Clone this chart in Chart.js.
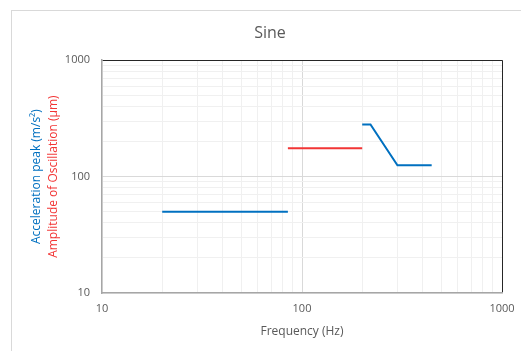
<!DOCTYPE html>
<html>
<head>
<meta charset="utf-8">
<script src="https://cdn.jsdelivr.net/npm/chart.js@4"></script>
<style>
  body { margin: 0; background: #fff; }
  #wrap { position: relative; width: 521px; height: 351px; overflow: hidden; }
  #frame { position: absolute; left: 11px; top: 10px; width: 600px; height: 400px; border: 1px solid #d9d9d9; }
  #myChart { position: absolute; left: 0; top: 0; }
</style>
</head>
<body>
<div id="wrap">
  <div id="frame"></div>
  <canvas id="myChart" width="521" height="351"></canvas>
</div>
<script>
// series (frequency in Hz, value on log scale)
const accLowFreq = [20, 85];
const accLowPeak = [50, 50];
const ampFreq = [85, 200];
const ampValue = [175, 175];
const accHighFreq = [200, 220, 300, 445];
const accHighPeak = [280, 280, 125, 125];

// grid lines at 1..9 per decade, labels only on the decades
const gridValues = [10, 20, 30, 40, 50, 60, 70, 80, 90, 100, 200, 300, 400, 500, 600, 700, 800, 900, 1000];
const decadeLabels = [10, 100, 1000];

const chartTitle = 'Sine';
const xTitle = 'Frequency (Hz)';
const yTitleAcc = 'Acceleration peak (m/s²)';
const yTitleAmp = 'Amplitude of Oscillation (µm)';

const blue = '#0070c0';
const red = '#f23535';
const textGrey = '#595959';
const font = 'Open Sans';

const toPoints = (xs, ys) => xs.map((x, i) => ({ x: x, y: ys[i] }));

const gridColor = (c) => {
  if (c.tick.value === 1000) return '#262626';
  if (c.tick.value === 100) return '#d9d9d9';
  return '#f0f0f0';
};

// y title has two lines in two colours, so draw it ourselves
const yTitlePlugin = {
  id: 'yTitles',
  afterDraw(chart) {
    const ctx = chart.ctx;
    const area = chart.chartArea;
    const midY = (area.top + area.bottom) / 2;
    ctx.save();
    ctx.font = '12px "' + font + '"';
    ctx.textAlign = 'center';
    ctx.textBaseline = 'middle';
    [[yTitleAcc, blue, 37], [yTitleAmp, red, 54]].forEach(([text, color, x]) => {
      ctx.save();
      ctx.translate(x, midY);
      ctx.rotate(-Math.PI / 2);
      ctx.fillStyle = color;
      ctx.fillText(text, 0, 0);
      ctx.restore();
    });
    ctx.restore();
  }
};

const lineStyle = { borderWidth: 2, pointRadius: 0, tension: 0, fill: false, borderCapStyle: 'butt' };

new Chart(document.getElementById('myChart'), {
  type: 'line',
  data: {
    datasets: [
      Object.assign({ label: 'Acceleration low', data: toPoints(accLowFreq, accLowPeak), borderColor: blue }, lineStyle),
      Object.assign({ label: 'Amplitude', data: toPoints(ampFreq, ampValue), borderColor: red }, lineStyle),
      Object.assign({ label: 'Acceleration high', data: toPoints(accHighFreq, accHighPeak), borderColor: blue }, lineStyle)
    ]
  },
  options: {
    responsive: false,
    animation: false,
    devicePixelRatio: 1,
    layout: { padding: { left: 38, right: 19, top: 0, bottom: 0 } },
    plugins: {
      legend: { display: false },
      tooltip: { enabled: false },
      title: {
        display: true,
        text: chartTitle,
        color: textGrey,
        font: { family: font, size: 16, weight: 'normal' },
        padding: { top: 24, bottom: 17 }
      }
    },
    scales: {
      x: {
        type: 'logarithmic',
        min: 10,
        max: 1000,
        afterBuildTicks: (s) => { s.ticks = gridValues.map(v => ({ value: v })); },
        afterFit: (s) => { s.height = 58; s.paddingRight = 12; s.paddingLeft = 0; },
        grid: { color: gridColor, drawTicks: false },
        border: { color: '#a6a6a6', width: 1.5 },
        ticks: {
          autoSkip: false,
          maxRotation: 0,
          padding: 9,
          color: textGrey,
          font: { family: font, size: 11 },
          callback: (v) => decadeLabels.includes(v) ? String(v) : ''
        },
        title: {
          display: true,
          text: xTitle,
          color: textGrey,
          font: { family: font, size: 12 },
          padding: { top: 0, bottom: 12 }
        }
      },
      y: {
        type: 'logarithmic',
        min: 10,
        max: 1000,
        afterBuildTicks: (s) => { s.ticks = gridValues.map(v => ({ value: v })); },
        afterFit: (s) => { s.width = 64; },
        grid: { color: gridColor, drawTicks: false },
        border: { color: '#a6a6a6', width: 1.5 },
        ticks: {
          autoSkip: false,
          padding: 12,
          color: textGrey,
          font: { family: font, size: 11 },
          callback: (v) => decadeLabels.includes(v) ? String(v) : ''
        }
      }
    }
  },
  plugins: [yTitlePlugin]
});
</script>
</body>
</html>
